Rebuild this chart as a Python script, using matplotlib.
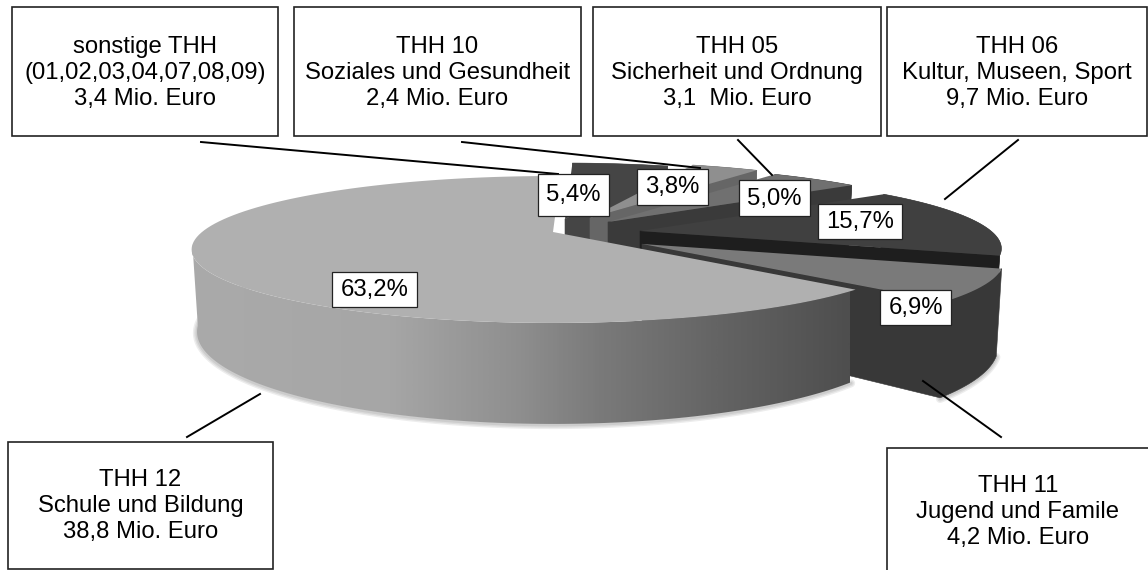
import numpy as np
import matplotlib
matplotlib.use("Agg")
import matplotlib.pyplot as plt
from matplotlib.colors import LinearSegmentedColormap
from matplotlib.patches import Polygon, Rectangle

plt.rcParams["font.family"] = ["Liberation Sans", "DejaVu Sans"]

# ── Data ──────────────────────────────────────────────────────────────────────
shares = [63.2, 6.9, 15.7, 5.0, 3.8, 5.4]
pct_labels = ["63,2%", "6,9%", "15,7%", "5,0%", "3,8%", "5,4%"]
box_labels = [
    "THH 12\nSchule und Bildung\n38,8 Mio. Euro",
    "THH 11\nJugend und Famile\n4,2 Mio. Euro",
    "THH 06\nKultur, Museen, Sport\n9,7 Mio. Euro",
    "THH 05\nSicherheit und Ordnung\n3,1  Mio. Euro",
    "THH 10\nSoziales und Gesundheit\n2,4 Mio. Euro",
    "sonstige THH\n(01,02,03,04,07,08,09)\n3,4 Mio. Euro",
]

# ── Layout (pixels of the 1148x570 picture) ───────────────────────────────────
A, B, K = 351, 69.3, 0.238      # ellipse semi axes, perspective strength
FIRST_START = 88.5              # angle where the big slice starts, counter-clockwise
LEFT_MOST = 190                 # the big slice's wall only shows from here on

apex_x = [553, 642, 640, 608, 590, 565]
apex_y = [232, 244, 231, 222, 218, 219]
thick = [78, 81, 78, 78, 78, 78]
top_col = ["#b0b0b0", "#7a7a7a", "#404040", "#707070", "#8f8f8f", "#454545"]
cut_col = [None, "#383838", "#1e1e1e", "#3a3a3a", "#666666", "#454545"]
wall_col = [None, "#383838", "#404040", "#3a3a3a", "#666666", "#454545"]

box_rects = [(8, 442, 265, 127), (887, 448, 262, 125), (887, 7, 260, 129),
             (593, 7, 288, 129), (294, 7, 287, 129), (12, 7, 266, 129)]
box_text_y = [506, 512, 73, 73, 73, 73]
pct_rects = [(332, 272, 85, 35), (880, 290, 71, 35), (818, 204, 84, 35),
             (739, 180, 71, 36), (637, 169, 71, 36), (538, 174, 71, 42)]
leaders = [((260, 394), (187, 437)), ((923, 381), (1001, 437)), ((1018, 140), (945, 199)),
           ((738, 140), (772, 175)), ((462, 142), (700, 168)), ((201, 142), (558, 174))]


def project(t_deg):
    """Offset of a rim point from the slice apex, plus its perspective divisor."""
    t = np.radians(t_deg)
    w = 1 + K * np.sin(t)
    return A * np.cos(t) / w, -B * np.sin(t) / w, w


def rim(ax0, ay0, t0, t1, depth):
    ts = np.linspace(t0, t1, 120)
    dx, dy, w = project(ts)
    top = np.column_stack([ax0 + dx, ay0 + dy])
    bot = np.column_stack([ax0 + dx * 0.985, ay0 + dy * 0.985 + depth / w])
    return top, bot


fig = plt.figure(figsize=(11.48, 5.70), dpi=100)
ax = fig.add_axes([0, 0, 1, 1])
ax.axis("off")

spans = np.array(shares) / sum(shares) * 360
starts = FIRST_START + np.concatenate([[0], np.cumsum(spans)[:-1]])

wall_cmap = LinearSegmentedColormap.from_list("wall", [
    (0.0, "#aaaaaa"), (0.3, "#a6a6a6"), (0.5, "#8e8e8e"),
    (0.62, "#7a7a7a"), (0.8, "#646464"), (1.0, "#4e4e4e")])

# back slices first, the big slice last
for i in [5, 4, 3, 2, 1, 0]:
    t0, t1 = starts[i], starts[i] + spans[i]
    ax0, ay0 = apex_x[i], apex_y[i]
    depth = thick[i]
    top, bot = rim(ax0, ay0, t0, t1, depth)
    zo = 2 + (5 - i)
    if i in (0, 1):  # soft shadow under the front slices
        for lw in [6, 4, 2]:
            ax.plot(bot[:, 0], bot[:, 1] + 1, color="black", alpha=0.07, lw=lw,
                    solid_capstyle="round", zorder=zo)
    if i == 0:
        wtop, wbot = rim(ax0, ay0, LEFT_MOST, t1, depth)
        wall = Polygon(np.vstack([wtop, wbot[::-1]]), closed=True, fc="none", ec="none", zorder=zo)
        ax.add_patch(wall)
        grad = np.linspace(0, 1, 400).reshape(1, -1)
        im = ax.imshow(grad, cmap=wall_cmap, extent=(192, 850, 500, 150), aspect="auto",
                       zorder=zo, interpolation="bilinear")
        im.set_clip_path(wall)
    elif i == 1:
        # front slice: cut face and rim wall in one piece, no seam between them
        ax.add_patch(Polygon(np.vstack([[(ax0, ay0)], top, bot[::-1], [(ax0, ay0 + depth)]]),
                             closed=True, fc=wall_col[i], ec=wall_col[i], lw=0.4, zorder=zo))
    else:
        ax.add_patch(Polygon(np.vstack([top, bot[::-1]]), closed=True, zorder=zo,
                             fc=wall_col[i], ec=wall_col[i], lw=0.4))
        # the cut face turned to the viewer
        ax.add_patch(Polygon([(ax0, ay0), top[0], bot[0], (ax0, ay0 + depth)], closed=True,
                             fc=cut_col[i], ec=cut_col[i], lw=0.4, zorder=zo))
    ax.add_patch(Polygon(np.vstack([[(ax0, ay0)], top]), closed=True, fc=top_col[i],
                         ec="none", zorder=zo))

for (p, q) in leaders:
    ax.plot([p[0], q[0]], [p[1], q[1]], color="black", lw=1.4, zorder=20)

for (x, y, w, h), label in zip(pct_rects, pct_labels):
    ax.add_patch(Rectangle((x, y), w, h, fc="white", ec="#222222", lw=0.9, zorder=21))
    ax.text(x + w / 2, y + h / 2 + 0.5, label, ha="center", va="center", fontsize=17.2,
            color="black", zorder=22)

for (x, y, w, h), ty, label in zip(box_rects, box_text_y, box_labels):
    ax.add_patch(Rectangle((x, y), w, h, fc="white", ec="#222222", lw=1.2, zorder=21))
    cx = min(x + w / 2, 1018)
    ax.text(cx, ty, label, ha="center", va="center", fontsize=17.2, linespacing=1.22,
            color="black", zorder=22)

ax.set_xlim(0, 1148)
ax.set_ylim(570, 0)

fig.savefig("out.png", dpi=100, facecolor="white")
